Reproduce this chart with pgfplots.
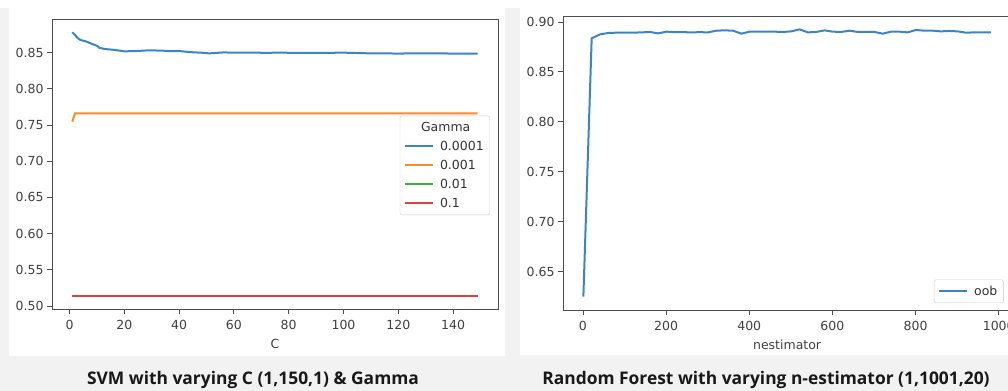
\documentclass[border=0pt]{standalone}
\usepackage{fontspec}
\usepackage{pgfplots}
\pgfplotsset{compat=1.18}
\newfontfamily\djv{DejaVu Sans}
\newfontfamily\capfont{Open Sans}
\definecolor{tabblue}{HTML}{3A86C4}
\definecolor{taborange}{HTML}{FF8A24}
\definecolor{tabgreen}{HTML}{3CB03C}
\definecolor{tabred}{HTML}{DC4040}
\definecolor{bggray}{HTML}{F2F2F2}
\pgfplotsset{
  mystyle/.style={
    scale only axis,
    axis line style={black!70, line width=0.9bp},
    tick align=outside,
    major tick length=5bp,
    every tick/.style={black!70, line width=0.9bp},
    xtick pos=bottom, ytick pos=left,
    scaled ticks=false,
    ticklabel style={font=\djv\fontsize{12.5bp}{15bp}\selectfont, text=black!75},
    /pgf/number format/assume math mode=true,
    /pgf/number format/1000 sep={},
    yticklabel style={/pgf/number format/.cd, fixed, fixed zerofill, precision=2},
    xticklabel style={yshift=-3bp, /pgf/number format/.cd, fixed, precision=0},
    label style={font=\djv\fontsize{12.5bp}{15bp}\selectfont, text=black!75},
    xlabel style={yshift=-2bp},
    legend style={font=\djv\fontsize{12.5bp}{15bp}\selectfont, text=black!80,
      draw=black!20, rounded corners=2bp, fill=white, fill opacity=0.85, text opacity=1,
      legend cell align=left, row sep=4.3bp, column sep=4bp, inner sep=4bp},
    legend image code/.code={\draw[#1, line width=2bp] (0bp,0bp) -- (28bp,0bp);},
    every axis plot/.append style={line width=2bp},
  }
}
\begin{document}
\begin{tikzpicture}
\path[use as bounding box, clip] (0,0) rectangle (1008bp,391bp);
\fill[white] (0,0) rectangle (1008bp,391bp);
\fill[bggray] (0,0) rectangle (1008bp,383bp);
\fill[white] (8.5bp,35bp) rectangle (505bp,383bp);
\fill[white] (520bp,36bp) rectangle (1010bp,383bp);

\begin{axis}[mystyle,
  at={(52bp,82bp)}, anchor=south west,
  width=446bp, height=290bp,
  xmin=-6.4, xmax=156.4, ymin=0.4959, ymax=0.8965,
  xtick={0,20,...,140},
  ytick={0.50,0.55,0.60,0.65,0.70,0.75,0.80,0.85},
  xlabel={C},
  legend style={at={(0.982,0.324)}, anchor=south east},
]
\addlegendimage{empty legend}
\addplot[tabblue] coordinates {
(1,0.8780) (2,0.8745) (3,0.8700) (4,0.8675) (6,0.8655) (8,0.8624) (10,0.8595)
(11,0.8565) (13,0.8550) (16,0.8540) (18,0.8530) (20,0.8518) (24,0.8522)
(29,0.8532) (34,0.8528) (37,0.8520) (40,0.8522) (45,0.8505) (48,0.8500)
(51,0.8490) (56,0.8503) (62,0.8500) (66,0.8500) (72,0.8498) (77,0.8500)
(85,0.8496) (95,0.8498) (100,0.8500) (110,0.8490) (120,0.8488) (130,0.8490)
(140,0.8488) (149,0.8485)};
\addplot[taborange] coordinates {(1,0.7547) (2,0.7662) (149,0.7662)};
\addplot[tabgreen] coordinates {(1,0.5142) (149,0.5142)};
\addplot[tabred] coordinates {(1,0.5142) (149,0.5142)};
\legend{\hspace*{-19bp}Gamma, 0.0001, 0.001, 0.01, 0.1}
\end{axis}

\begin{axis}[mystyle,
  at={(563bp,81bp)}, anchor=south west,
  width=448.2bp, height=294bp,
  xmin=-48, xmax=1030, ymin=0.6115, ymax=0.906,
  xtick={0,200,...,1000},
  ytick={0.65,0.70,0.75,0.80,0.85,0.90},
  xlabel={nestimator},
  legend style={at={(0.983,0.024)}, anchor=south east},
]
\addplot[tabblue] coordinates {
(1,0.6250) (21,0.8836) (41,0.8876) (61,0.8890) (81,0.8893) (101,0.8893)
(121,0.8893) (141,0.8896) (161,0.8900) (181,0.8886) (201,0.8903) (221,0.8898)
(241,0.8898) (261,0.8896) (281,0.8898) (301,0.8896) (321,0.8913) (341,0.8916)
(361,0.8913) (381,0.8883) (401,0.8903) (421,0.8903) (441,0.8903) (461,0.8903)
(481,0.8900) (501,0.8906) (521,0.8926) (541,0.8896) (561,0.8900) (581,0.8916)
(601,0.8903) (621,0.8900) (641,0.8913) (661,0.8900) (681,0.8900) (701,0.8900)
(721,0.8883) (741,0.8903) (761,0.8903) (781,0.8896) (801,0.8920) (821,0.8913)
(841,0.8913) (861,0.8906) (881,0.8910) (901,0.8906) (921,0.8893) (941,0.8896)
(961,0.8896) (981,0.8896)};
\legend{oob}
\end{axis}

\node[font=\capfont\bfseries\fontsize{17.4bp}{20bp}\selectfont, text=black!90] at (253bp,11bp) {SVM with varying C (1,150,1) \& Gamma};
\node[font=\capfont\bfseries\fontsize{17.4bp}{20bp}\selectfont, text=black!90] at (766bp,11bp) {Random Forest with varying n-estimator (1,1001,20)};
\end{tikzpicture}
\end{document}
